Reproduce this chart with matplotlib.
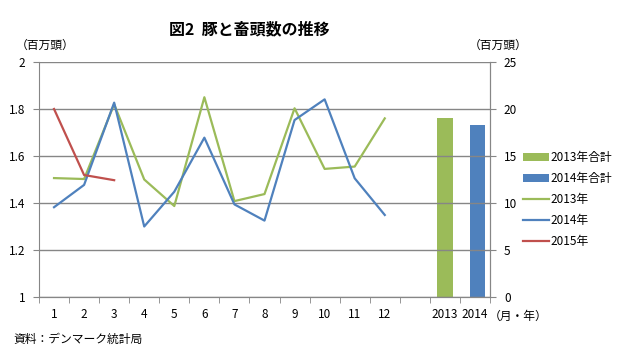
import numpy as np
import matplotlib.pyplot as plt

plt.rcParams['font.family'] = ['Noto Sans CJK JP', 'DejaVu Sans']

# categories: months 1-12, gap, yearly totals
cats = ['1', '2', '3', '4', '5', '6', '7', '8', '9', '10', '11', '12', '', '2013', '2014']
months = list(range(12))

y2013 = [1.506, 1.502, 1.82, 1.50, 1.387, 1.85, 1.408, 1.438, 1.803, 1.545, 1.555, 1.76]
y2014 = [1.382, 1.477, 1.827, 1.30, 1.448, 1.678, 1.394, 1.325, 1.753, 1.841, 1.505, 1.349]
y2015 = [1.80, 1.519, 1.497]
total2013 = 19.07
total2014 = 18.33

green = '#9BBB59'
blue = '#4F81BD'
red = '#C0504D'
grid_c = '#868686'

fig = plt.figure(figsize=(6.19, 3.55), dpi=100)
ax = fig.add_axes([0.063, 0.1634, 0.7286, 0.662])
ax2 = ax.twinx()

# bars on the right axis
b1 = ax2.bar(13, total2013, width=0.55, color=green, label='2013年合計')
b2 = ax2.bar(14.08, total2014, width=0.52, color=blue, label='2014年合計')
ax2.set_ylim(0, 25)
ax2.set_yticks([0, 5, 10, 15, 20, 25])

# lines on the left axis
ax.set_zorder(ax2.get_zorder() + 1)
ax.patch.set_visible(False)
l1, = ax.plot(months, y2013, color=green, lw=1.6, label='2013年')
l2, = ax.plot(months, y2014, color=blue, lw=1.6, label='2014年')
l3, = ax.plot(months[:3], y2015, color=red, lw=1.6, label='2015年')
ax.set_ylim(1, 2)
ax.set_yticks([1, 1.2, 1.4, 1.6, 1.8, 2])
ax.set_yticklabels(['1', '1.2', '1.4', '1.6', '1.8', '2'])
ax.set_xlim(-0.5, 14.5)
ax.set_xticks(range(15))
ax.set_xticklabels(cats)
ax.set_xticks(np.arange(-0.5, 15, 1), minor=True)
ax.tick_params(axis='x', which='major', length=0, pad=8)
ax.tick_params(axis='x', which='minor', length=4, color=grid_c)
ax.grid(axis='y', color=grid_c, lw=1)
ax.set_axisbelow(True)

for a in (ax, ax2):
    for s in a.spines.values():
        s.set_color(grid_c)
    a.spines['top'].set_visible(False)
    a.tick_params(axis='y', length=4, color=grid_c, labelsize=8.5, pad=6)
ax.tick_params(axis='x', labelsize=8.5)
ax2.spines['left'].set_visible(False)

fig.legend(handles=[b1, b2, l1, l2, l3], loc='upper left',
           bbox_to_anchor=(0.828, 0.605), frameon=False, fontsize=8.5,
           handlelength=2.2, handletextpad=0.15, labelspacing=0.68)

fig.text(0.402, 0.903, '図2  豚と畜頭数の推移', fontsize=11.5, fontweight='bold', ha='center')
fig.text(0.025, 0.862, '（百万頭）', fontsize=8.5)
fig.text(0.758, 0.862, '（百万頭）', fontsize=8.5)
fig.text(0.79, 0.098, '（月・年）', fontsize=8.5)
fig.text(0.022, 0.035, '資料：デンマーク統計局', fontsize=8.5)

fig.savefig('out.png', dpi=100)
